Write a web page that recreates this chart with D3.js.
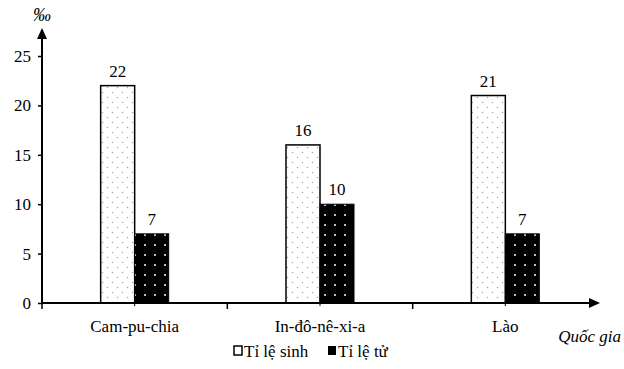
<!DOCTYPE html>
<html>
<head>
<meta charset="utf-8">
<script src="https://cdn.jsdelivr.net/npm/d3@7"></script>
<style>
  body { margin: 0; background: #fff; }
</style>
</head>
<body>
<svg id="chart" width="624" height="369"></svg>
<script>
const categories = ['Cam-pu-chia', 'In-đô-nê-xi-a', 'Lào'];
const birthRate = [22, 16, 21];
const deathRate = [7, 10, 7];
const seriesNames = ['Tỉ lệ sinh', 'Tỉ lệ tử'];
const yTicks = [0, 5, 10, 15, 20, 25];

const FONT = '"Liberation Serif", "Times New Roman", Tinos';
const svg = d3.select('#chart');
const x0 = 42, xEnd = 598, yBase = 303, yTop = 56;

const x = d3.scaleBand().domain(categories).range([x0, xEnd]);
const y = d3.scaleLinear().domain([0, 25]).range([yBase, yTop]);
const barW = 34;

// patterns
const defs = svg.append('defs');
const pw = defs.append('pattern').attr('id', 'dotsWhite')
  .attr('patternUnits', 'userSpaceOnUse').attr('width', 10).attr('height', 10);
pw.append('rect').attr('width', 10).attr('height', 10).attr('fill', '#fff');
pw.append('circle').attr('cx', 2.5).attr('cy', 2.5).attr('r', 0.75).attr('fill', '#a8a8a8');
pw.append('circle').attr('cx', 7.5).attr('cy', 7.5).attr('r', 0.75).attr('fill', '#a8a8a8');

const pb = defs.append('pattern').attr('id', 'dotsBlack')
  .attr('patternUnits', 'userSpaceOnUse').attr('width', 10).attr('height', 10);
pb.append('rect').attr('width', 10).attr('height', 10).attr('fill', '#000');
pb.append('circle').attr('cx', 5).attr('cy', 5).attr('r', 1).attr('fill', '#fff');

const data = categories.map((c, i) => ({ c, b: birthRate[i], d: deathRate[i] }));
const center = c => x(c) + x.bandwidth() / 2;

// bars
const g = svg.append('g');
g.selectAll('.birth').data(data).join('rect')
  .attr('x', d => center(d.c) - barW).attr('y', d => y(d.b))
  .attr('width', barW).attr('height', d => y(0) - y(d.b))
  .attr('fill', 'url(#dotsWhite)').attr('stroke', '#000').attr('stroke-width', 1.5);
g.selectAll('.death').data(data).join('rect')
  .attr('x', d => center(d.c)).attr('y', d => y(d.d))
  .attr('width', barW).attr('height', d => y(0) - y(d.d))
  .attr('fill', 'url(#dotsBlack)').attr('stroke', '#000').attr('stroke-width', 1);

// value labels
g.selectAll('.lb').data(data).join('text')
  .attr('x', d => center(d.c) - barW / 2).attr('y', d => y(d.b) - 9)
  .attr('text-anchor', 'middle').style('font-size', '17px').style('font-family', FONT).text(d => d.b);
g.selectAll('.ld').data(data).join('text')
  .attr('x', d => center(d.c) + barW / 2).attr('y', d => y(d.d) - 9)
  .attr('text-anchor', 'middle').style('font-size', '17px').style('font-family', FONT).text(d => d.d);

// y axis
const yAxis = svg.append('g').attr('transform', `translate(${x0},0)`)
  .call(d3.axisLeft(y).tickValues(yTicks).tickSize(4).tickSizeOuter(0).tickPadding(7));
yAxis.select('.domain').remove();
yAxis.selectAll('.tick line').attr('stroke-width', 1.5);
yAxis.selectAll('.tick text').style('font-size', '17px').style('font-family', FONT).attr('fill', '#000');
svg.append('line').attr('x1', x0).attr('x2', x0).attr('y1', yBase + 1).attr('y2', 36)
  .attr('stroke', '#000').attr('stroke-width', 2);
svg.append('path').attr('d', `M${x0},28 L${x0 - 5},39 L${x0 + 5},39 Z`).attr('fill', '#000');

// x axis
const edges = categories.map(c => x(c));
svg.append('g').selectAll('line').data(edges).join('line')
  .attr('x1', d => d).attr('x2', d => d).attr('y1', yBase).attr('y2', yBase + 6)
  .attr('stroke', '#000').attr('stroke-width', 1.5);
svg.append('g').selectAll('line').data(categories).join('line')
  .attr('x1', d => center(d)).attr('x2', d => center(d)).attr('y1', yBase).attr('y2', yBase + 3)
  .attr('stroke', '#000').attr('stroke-width', 1);
svg.append('line').attr('x1', x0 - 1).attr('x2', xEnd - 6).attr('y1', yBase).attr('y2', yBase)
  .attr('stroke', '#000').attr('stroke-width', 2);
svg.append('path').attr('d', `M${xEnd + 2},${yBase} L${xEnd - 9},${yBase - 5} L${xEnd - 9},${yBase + 5} Z`).attr('fill', '#000');

svg.append('g').selectAll('text').data(categories).join('text')
  .attr('x', d => center(d)).attr('y', 332).attr('text-anchor', 'middle')
  .style('font-size', '17px').style('font-family', FONT).text(d => d);

// axis titles
svg.append('text').attr('x', 42).attr('y', 21).attr('text-anchor', 'middle')
  .style('font-size', '18px').style('font-style', 'italic').style('font-family', FONT).text('‰');
svg.append('text').attr('x', 621).attr('y', 342).attr('text-anchor', 'end')
  .style('font-size', '17px').style('font-style', 'italic').style('font-family', FONT).text('Quốc gia');

// legend
const leg = svg.append('g');
leg.append('rect').attr('x', 234).attr('y', 346).attr('width', 8).attr('height', 9)
  .attr('fill', '#fff').attr('stroke', '#000').attr('stroke-width', 1.5);
leg.append('text').attr('x', 244).attr('y', 357).style('font-size', '17px').style('font-family', FONT).text(seriesNames[0]);
leg.append('rect').attr('x', 328).attr('y', 346).attr('width', 8).attr('height', 9)
  .attr('fill', '#000');
leg.append('text').attr('x', 338).attr('y', 357).style('font-size', '17px').style('font-family', FONT).text(seriesNames[1]);
</script>
</body>
</html>
